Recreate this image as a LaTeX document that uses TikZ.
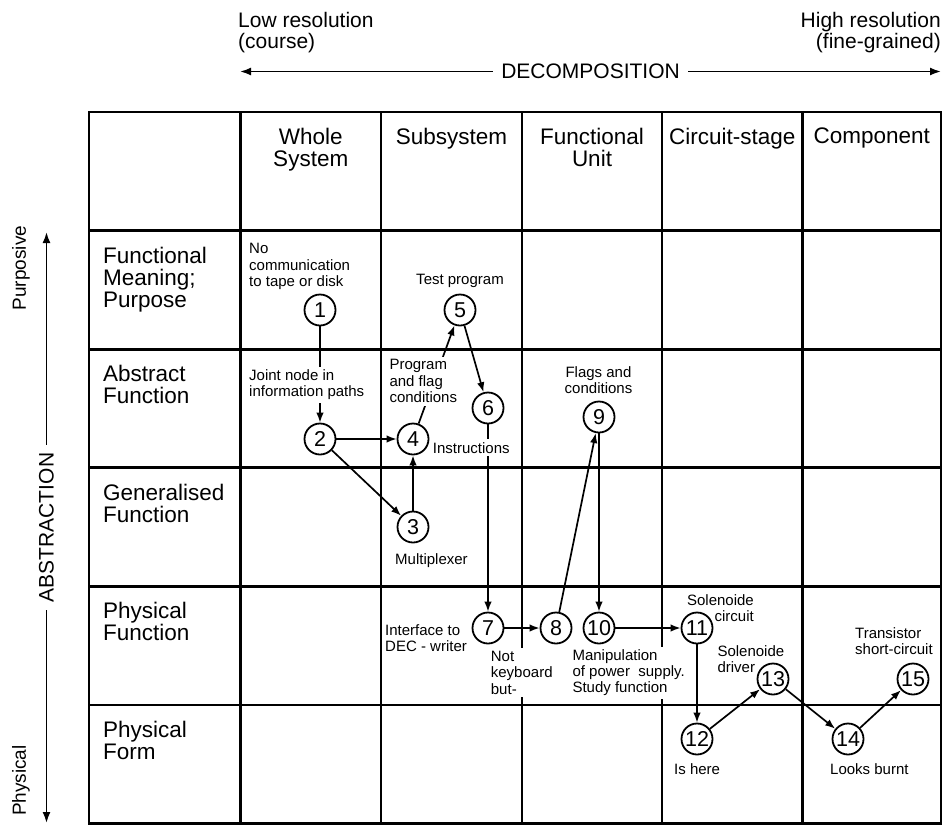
\documentclass[tikz,border=0pt]{standalone}
\usepackage{fontspec}
\setmainfont{Liberation Sans}
\usetikzlibrary{arrows.meta}
\begin{document}
\begin{tikzpicture}[x=1pt,y=-1pt,
  gridline/.style={line width=2.7pt},
  conn/.style={line width=1.7pt,-{Latex[length=10pt,width=7.5pt]}},
  dbl/.style={line width=1.8pt,{Latex[length=11pt,width=8pt]}-{Latex[length=11pt,width=8pt]}},
  numc/.style={circle,draw,line width=1.8pt,minimum size=31pt,inner sep=0pt,font=\fontsize{21.5}{21.5}\selectfont,fill=white},
  lab/.style={font=\fontsize{15}{16.3}\selectfont,inner xsep=1pt,inner ysep=3pt,fill=white,align=left,anchor=north west},
  labnf/.style={font=\fontsize{15}{16.3}\selectfont,inner sep=0pt,align=left,anchor=north west},
  celltext/.style={font=\fontsize{22.5}{22}\selectfont,inner sep=0pt},
  toptext/.style={font=\fontsize{21}{21.5}\selectfont,inner sep=0pt},
  sidetext/.style={font=\fontsize{19}{19}\selectfont,inner sep=0pt,rotate=90},
]
\useasboundingbox (0,0) rectangle (944,825);
% ---- table grid
\draw[gridline] (89,112) rectangle (941,823.5);
\foreach \x in {240.5,381,522,662,802.5}
  \draw[gridline] (\x,112) -- (\x,823.5);
\foreach \y in {230.6,349.2,467.8,586.4,705}
  \draw[gridline] (89,\y) -- (941,\y);
% ---- column headers
\node[celltext,align=center,anchor=north] (hWS) at (310.75,128) {Whole\\System};
\node[celltext,align=center,anchor=north] (hSS) at (451.5,128) {Subsystem};
\node[celltext,align=center,anchor=north] (hFU) at (592,128) {Functional\\Unit};
\node[celltext,align=center,anchor=north] (hCS) at (732.25,128) {Circuit-stage};
\node[celltext,align=center,anchor=north] (hCO) at (871.75,128) {Component};
% ---- row headers
\node[celltext,align=left,anchor=north west] (rFM) at (103,246.6) {Functional\\Meaning;\\Purpose};
\node[celltext,align=left,anchor=north west] (rAF) at (103,365.2) {Abstract\\Function};
\node[celltext,align=left,anchor=north west] (rGF) at (103,483.8) {Generalised\\Function};
\node[celltext,align=left,anchor=north west] (rPF) at (103,602.4) {Physical\\Function};
\node[celltext,align=left,anchor=north west] (rPo) at (103,721) {Physical\\Form};
% ---- top axis
\node[toptext,align=left,anchor=north west] (lowres) at (238,12) {Low resolution\\(course)};
\node[toptext,align=right,anchor=north east] (highres) at (941,12) {High resolution\\(fine-grained)};
\coordinate (decL) at (240,71.5);
\coordinate (decR) at (941,71.5);
\draw[dbl] (decL) -- (decR) node[midway,fill=white,toptext,inner xsep=8pt,inner ysep=2pt] (decomp) {DECOMPOSITION};
% ---- side axis
\coordinate (absT) at (46.5,232);
\coordinate (absB) at (46.5,823);
\draw[dbl] (absB) -- (absT) node[midway,fill=white,toptext,rotate=90,inner xsep=8pt,inner ysep=2pt] (abstr) {ABSTRACTION};
\node[sidetext] (purp) at (21,268) {Purposive};
\node[sidetext,anchor=east] (phys) at (21,745) {Physical};
% ---- numbered circles
\node[numc] (n1) at (320,310) {1};
\node[numc] (n2) at (320,439) {2};
\node[numc] (n3) at (413,527) {3};
\node[numc] (n4) at (413,439) {4};
\node[numc] (n5) at (460,310) {5};
\node[numc] (n6) at (488,408) {6};
\node[numc] (n7) at (488,628) {7};
\node[numc] (n8) at (556,628) {8};
\node[numc] (n9) at (599,417) {9};
\node[numc] (n10) at (599,628) {10};
\node[numc] (n11) at (697,628) {11};
\node[numc] (n12) at (697,739) {12};
\node[numc] (n13) at (773,679) {13};
\node[numc] (n14) at (848,739) {14};
\node[numc] (n15) at (913,679) {15};
% ---- connectors
\draw[conn] (n1) -- (n2);
\draw[conn] (n2) -- (n4);
\draw[conn] (n2) -- (n3);
\draw[conn] (n3) -- (n4);
\draw[conn] (n4) -- (n5);
\draw[conn] (n5) -- (n6);
\draw[conn] (n6) -- (n7);
\draw[conn] (n7) -- (n8);
\draw[conn] (n8) -- (n9);
\draw[conn] (n9) -- (n10);
\draw[conn] (n10) -- (n11);
\draw[conn] (n11) -- (n12);
\draw[conn] (n12) -- (n13);
\draw[conn] (n13) -- (n14);
\draw[conn] (n14) -- (n15);
% ---- labels
\node[lab] (tNo) at (248,240.3) {No\\communication\\to tape or disk};
\node[lab,anchor=north,align=center] (tTest) at (460,271.3) {Test program};
\node[lab] (tJoint) at (248,366.3) {Joint node in\\information paths};
\node[lab] (tProg) at (388.3,356.3) {Program\\and flag\\conditions};
\node[lab] (tInstr) at (431.7,439) {Instructions};
\node[lab,anchor=north,align=center] (tFlags) at (598.5,363.6) {Flags and\\conditions};
\node[lab] (tMux) at (394,550.3) {Multiplexer};
\node[lab] (tIface) at (384,621.3) {Interface to\\DEC - writer};
\node[lab] (tNot) at (489.7,648) {Not\\keyboard\\but-};
\node[lab] (tManip) at (571.3,646.3) {Manipulation\\of power\ \ supply.\\Study function};
\node[labnf,align=right,anchor=north east] (tSolC) at (754,594.3) {Solenoide\\circuit};
\node[labnf] (tSolD) at (717.3,645.3) {Solenoide\\driver};
\node[lab] (tTrans) at (854,624.6) {Transistor\\short-circuit};
\node[lab] (tHere) at (673,760.3) {Is here};
\node[lab] (tBurnt) at (829,760.3) {Looks burnt};
\end{tikzpicture}
\end{document}
